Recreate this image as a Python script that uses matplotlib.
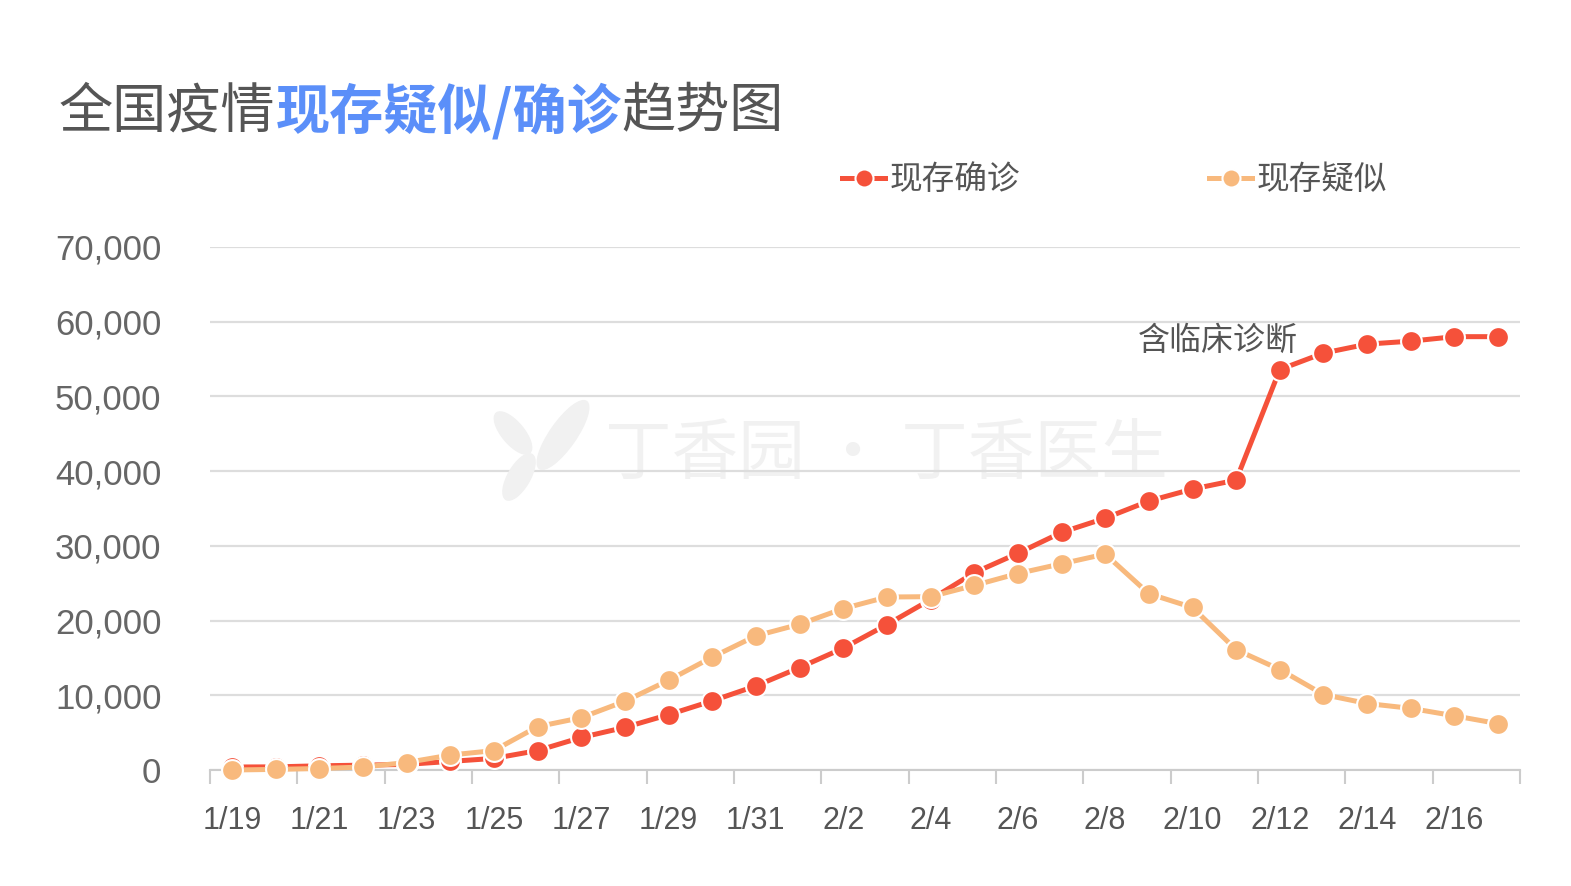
import numpy as np
import matplotlib
matplotlib.use("Agg")
import matplotlib.pyplot as plt
from matplotlib.patches import Ellipse

CJK = ["Noto Sans CJK SC", "DejaVu Sans"]
NUM = ["Liberation Sans", "DejaVu Sans"]

dates = ["1/19", "1/20", "1/21", "1/22", "1/23", "1/24", "1/25", "1/26", "1/27", "1/28",
         "1/29", "1/30", "1/31", "2/1", "2/2", "2/3", "2/4", "2/5", "2/6", "2/7",
         "2/8", "2/9", "2/10", "2/11", "2/12", "2/13", "2/14", "2/15", "2/16", "2/17"]
confirmed = [400, 420, 560, 650, 750, 1150, 1550, 2600, 4350, 5700,
             7400, 9250, 11250, 13700, 16300, 19450, 22800, 26400, 29000, 31800,
             33700, 36000, 37600, 38800, 53600, 55800, 57000, 57400, 58000, 58000]
suspected = [0, 80, 200, 400, 1000, 2000, 2600, 5800, 7000, 9200,
             12000, 15100, 17950, 19500, 21600, 23150, 23200, 24700, 26300, 27600,
             28900, 23600, 21750, 16100, 13450, 10100, 8900, 8250, 7250, 6200]
y_ticks = [0, 10000, 20000, 30000, 40000, 50000, 60000, 70000]

RED = "#f5513a"
ORANGE = "#f8b97d"
GRAY = "#555555"
BLUE = "#5b8ff9"
WM = "#f1f1f1"

W, H = 1571, 886
fig = plt.figure(figsize=(W / 100, H / 100), dpi=100)
ax = fig.add_axes([210 / W, 1 - 770 / H, (1520 - 210) / W, (770 - 247) / H])

x = np.arange(len(dates))

# watermark text + leaf logo
ax.text((605 - 210) / 1310, (770 - 455) / 523, "丁香园 · 丁香医生", transform=ax.transAxes,
        fontsize=48, family=CJK, color=WM, fontweight="light", ha="left", va="center",
        zorder=0)
logo = fig.add_axes([485 / W, 1 - 505 / H, 110 / W, 110 / H])
logo.set_xlim(0, 110)
logo.set_ylim(0, 110)
logo.axis("off")
for (cx, cy, w, h, ang) in [(78, 70, 26, 82, -35), (28, 72, 22, 52, 40), (34, 28, 22, 52, -30)]:
    logo.add_patch(Ellipse((cx, cy), w, h, angle=ang, color=WM, zorder=0))

ax.plot(x, confirmed, color=RED, lw=3.6, marker="o", ms=15, mfc=RED, mec="white",
        mew=1.5, label="现存确诊", zorder=3, clip_on=False)
ax.plot(x, suspected, color=ORANGE, lw=3.6, marker="o", ms=15, mfc=ORANGE, mec="white",
        mew=1.5, label="现存疑似", zorder=4, clip_on=False)

ax.set_xlim(-0.5, len(dates) - 0.5)
ax.set_ylim(0, 70000)
ax.set_yticks(y_ticks)
ax.set_yticklabels([f"{v:,}" for v in y_ticks], fontsize=25, family=NUM, color="#666666")
ax.tick_params(axis="y", length=0, pad=35)

ax.set_xticks(np.arange(-0.5, len(dates), 2))
ax.set_xticklabels([])
ax.tick_params(axis="x", which="major", length=10, width=1.5, color="#cccccc")
ax.set_xticks(x[::2], minor=True)
ax.set_xticklabels(dates[::2], minor=True, fontsize=22, family=NUM, color="#555555")
ax.tick_params(axis="x", which="minor", length=0, pad=26)

ax.grid(axis="y", color="#dddddd", lw=1.6)
ax.set_axisbelow(True)
for s in ["top", "right", "left"]:
    ax.spines[s].set_visible(False)
ax.spines["bottom"].set_color("#cccccc")
ax.spines["bottom"].set_linewidth(1.5)

ax.annotate("含临床诊断", xy=(24, confirmed[24]), xytext=(1298 / W, 1 - 341 / H),
            textcoords="figure fraction", ha="right", va="center", fontsize=23,
            family=CJK, color=GRAY)

leg = ax.legend(ncol=2, loc="center left", bbox_to_anchor=(826 / W, 1 - 180 / H),
                bbox_transform=fig.transFigure, frameon=False, borderpad=0,
                handlelength=1.3, handletextpad=0.15, columnspacing=5.8,
                prop={"family": CJK, "size": 23.5})
for t in leg.get_texts():
    t.set_color(GRAY)
for h in leg.legend_handles:
    h.set_markersize(13)

# title with coloured segments
parts = [("全国疫情", GRAY, "normal"), ("现存疑似/确诊", BLUE, "bold"), ("趋势图", GRAY, "normal")]
renderer = fig.canvas.get_renderer()
xpos = 59 / W
for txt, col, wt in parts:
    t = fig.text(xpos, 1 - 112 / H, txt, fontsize=39, family=CJK, color=col,
                 fontweight=wt, ha="left", va="center")
    bb = t.get_window_extent(renderer=renderer)
    xpos = bb.x1 / W

fig.savefig("out.png", dpi=100, facecolor="white")
